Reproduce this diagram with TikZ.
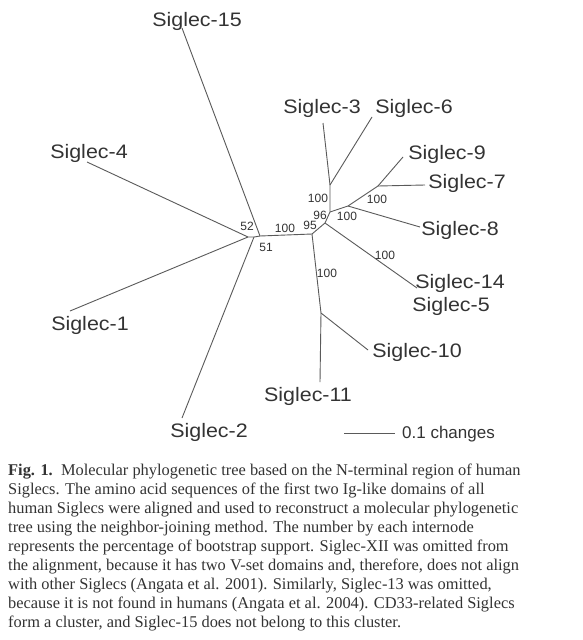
\documentclass[tikz,border=0pt]{standalone}
\usepackage{fontspec}
\setmainfont{Liberation Serif}
\newfontfamily\leaffont[FakeStretch=1.1]{Liberation Sans}
\newfontfamily\numfont{Liberation Sans}
\definecolor{ink}{HTML}{333333}
\definecolor{branch}{HTML}{5A5A5A}
\begin{document}
\begin{tikzpicture}[x=1pt,y=-1pt,
  br/.style={draw=branch,line width=0.9pt},
  leaf/.style={font=\leaffont\fontsize{19.5}{22}\selectfont, text=ink, inner sep=0pt},
  boot/.style={font=\numfont\fontsize{12}{14}\selectfont, text=ink, inner sep=0pt}]
\useasboundingbox[fill=white] (0,0) rectangle (582,640);
% internal nodes
\coordinate (a) at (248,237);
\coordinate (b) at (254,237);
\coordinate (c) at (260,236);
\coordinate (d) at (312,234);
\coordinate (e) at (325,223);
\coordinate (f) at (330,212);
\coordinate (g) at (330,185);
\coordinate (h) at (348,206);
\coordinate (k) at (378,186);
\coordinate (m) at (321,313);
% tips
\coordinate (t4) at (87,162);
\coordinate (t1) at (70,311);
\coordinate (t2) at (182,418);
\coordinate (t15) at (182,28);
\coordinate (t3) at (323,123);
\coordinate (t6) at (372,117);
\coordinate (t9) at (403,157);
\coordinate (t7) at (425,185);
\coordinate (t8) at (420,227);
\coordinate (t14) at (417,288);
\coordinate (t10) at (368,350);
\coordinate (t11) at (320,382);
% branches
\draw[br] (t4) -- (a);
\draw[br] (t1) -- (a);
\draw[br] (a) -- (b) -- (c) -- (d);
\draw[br] (t2) -- (b);
\draw[br] (t15) -- (c);
\draw[br] (d) -- (e) -- (f) -- (g);
\draw[br] (g) -- (t3);
\draw[br] (g) -- (t6);
\draw[br] (f) -- (h) -- (k);
\draw[br] (h) -- (t8);
\draw[br] (k) -- (t9);
\draw[br] (k) -- (t7);
\draw[br] (e) -- (t14);
\draw[br] (d) -- (m);
\draw[br] (m) -- (t10);
\draw[br] (m) -- (t11);
% leaf labels
\node[leaf] (l15) at (197,21) {Siglec-15};
\node[leaf] (l4) at (89,153) {Siglec-4};
\node[leaf] (l1) at (90,325) {Siglec-1};
\node[leaf] (l2) at (209,432) {Siglec-2};
\node[leaf] (l3) at (322,108) {Siglec-3};
\node[leaf] (l6) at (414,108) {Siglec-6};
\node[leaf] (l9) at (447,154) {Siglec-9};
\node[leaf] (l7) at (467,183) {Siglec-7};
\node[leaf] (l8) at (460,230) {Siglec-8};
\node[leaf] (l14) at (460,283) {Siglec-14};
\node[leaf] (l5) at (451,306) {Siglec-5};
\node[leaf] (l10) at (417,352) {Siglec-10};
\node[leaf] (l11) at (308,396) {Siglec-11};
% bootstrap values
\node[boot] (v52) at (247,226) {52};
\node[boot] (v51) at (266,247) {51};
\node[boot] (v100a) at (285,228) {100};
\node[boot] (v95) at (310,225) {95};
\node[boot] (v96) at (320,215) {96};
\node[boot] (v100b) at (318,198) {100};
\node[boot] (v100c) at (347,216) {100};
\node[boot] (v100d) at (377,199) {100};
\node[boot] (v100e) at (385,255) {100};
\node[boot] (v100f) at (327,273) {100};
% scale bar
\coordinate (s1) at (344,433);
\coordinate (s2) at (395,433);
\draw[br] (s1) -- (s2);
\node[font=\numfont\fontsize{17}{19}\selectfont, text=ink, inner sep=0pt, anchor=west] (sc) at (402,434) {0.1 changes};
% caption
\node[anchor=north west, align=left, inner sep=0pt, text=ink,
      font=\fontsize{16.4}{19}\selectfont] (cap) at (8,464) {%
\textbf{Fig. 1.}\ \ Molecular phylogenetic tree based on the N-terminal region of human\\
Siglecs. The amino acid sequences of the first two Ig-like domains of all\\
human Siglecs were aligned and used to reconstruct a molecular phylogenetic\\
tree using the neighbor-joining method. The number by each internode\\
represents the percentage of bootstrap support. Siglec-XII was omitted from\\
the alignment, because it has two V-set domains and, therefore, does not align\\
with other Siglecs (Angata et al. 2001). Similarly, Siglec-13 was omitted,\\
because it is not found in humans (Angata et al. 2004). CD33-related Siglecs\\
form a cluster, and Siglec-15 does not belong to this cluster.};
\end{tikzpicture}
\end{document}
